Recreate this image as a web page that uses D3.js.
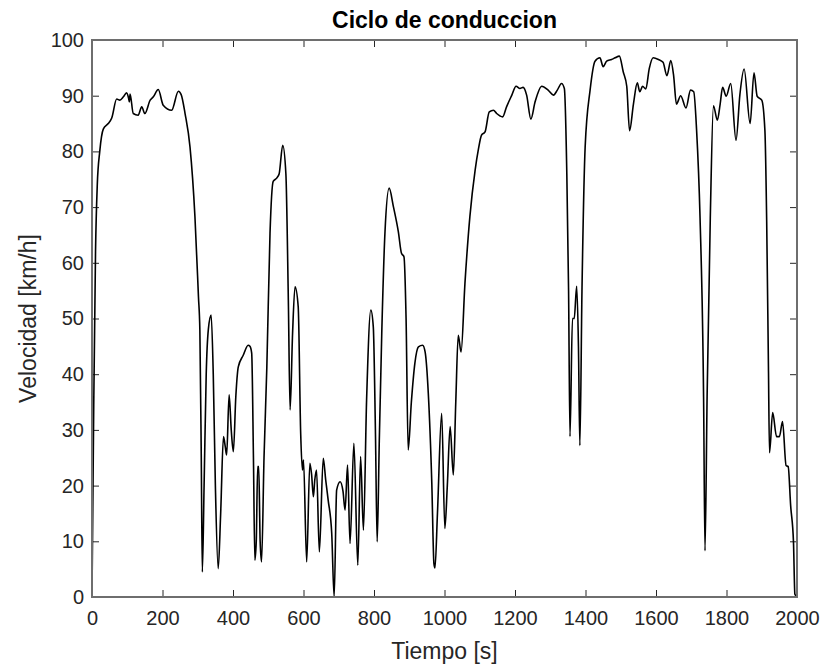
<!DOCTYPE html>
<html>
<head>
<meta charset="utf-8">
<script src="https://cdn.jsdelivr.net/npm/d3@7"></script>
<style>
body { margin: 0; background: white; }
text { font-family: "Liberation Sans", Arial, sans-serif; }
</style>
</head>
<body>
<script>
var g_width = 822
var g_height = 666
var margin = { left: 92, right: 25, top: 40, bottom: 69 }

// data
var tiempo = [0, 5, 10, 15, 22, 32, 46, 56, 70, 79, 89, 98, 104, 106, 108, 117, 131, 141, 150, 165,
    174, 188, 202, 226, 245, 253, 264, 278, 292, 302, 306, 310, 313, 318, 324, 330, 338, 344, 350, 358,
    365, 373, 378, 382, 389, 395, 401, 408, 415, 429, 443, 448, 453, 458, 462, 466, 470, 473, 477, 481,
    488, 496, 505, 514, 524, 531, 541, 550, 557, 562, 569, 576, 585, 592, 597, 600, 609, 618, 623, 628,
    632, 637, 645, 656, 663, 670, 680, 687, 694, 704, 712, 718, 725, 732, 743, 754, 762, 770, 779, 791,
    798, 804, 809, 815, 822, 831, 843, 855, 869, 878, 885, 891, 897, 906, 916, 926, 938, 945, 954, 964,
    970, 973, 980, 992, 1001, 1008, 1016, 1025, 1032, 1039, 1047, 1058, 1072, 1087, 1096, 1105, 1115, 1127, 1139, 1148,
    1165, 1176, 1191, 1203, 1214, 1223, 1233, 1245, 1257, 1276, 1294, 1309, 1320, 1332, 1340, 1347, 1352, 1356, 1363, 1368,
    1375, 1380, 1384, 1390, 1399, 1413, 1427, 1441, 1450, 1460, 1474, 1484, 1496, 1507, 1517, 1525, 1536, 1547, 1554, 1562,
    1571, 1581, 1592, 1607, 1620, 1631, 1642, 1650, 1658, 1670, 1685, 1698, 1707, 1715, 1725, 1735, 1739, 1745, 1754, 1763,
    1774, 1782, 1789, 1799, 1812, 1827, 1838, 1850, 1867, 1878, 1887, 1900, 1909, 1914, 1919, 1922, 1931, 1942, 1950, 1959,
    1969, 1975, 1982, 1990, 1994, 2000]

var velocidad = [0, 35, 62, 74, 80, 84, 85, 86, 89.4, 89.2, 89.8, 90.5, 89.5, 88.9, 90.3, 86.8, 86.5, 88, 86.8, 89.2,
    89.8, 91.1, 88.3, 87.4, 90.8, 90.2, 86.8, 80.8, 68.3, 53.9, 47.9, 25, 4.5, 20, 40, 48, 50.6, 40, 20, 5.1,
    15, 28.8, 27, 25.5, 36.3, 30, 26.1, 36, 41.3, 43.4, 45.2, 45, 43.8, 25, 6.6, 10, 23.4, 23.4, 10, 6.3,
    25, 41.3, 65.3, 74.6, 75.2, 76, 81.1, 76, 53.3, 33.6, 47.3, 55.7, 52.1, 29.4, 22.8, 24.6, 6.3, 24, 22, 18,
    21, 22.8, 8.1, 24.9, 21, 17.4, 11.5, 0, 19.2, 20.7, 19, 15.6, 23.7, 9.6, 27.6, 5.7, 25.2, 12, 35.4, 51.5,
    48.5, 30, 9.9, 28, 47.3, 65.3, 73.4, 70.1, 65.6, 61.7, 61.1, 50, 26.4, 35, 42, 44.9, 45.2, 44, 36.6, 20.4,
    6, 5.2, 15, 33, 12.3, 20, 30.6, 21.9, 35, 47, 44, 56.3, 68.3, 76.7, 80.3, 82.9, 83.5, 87.1, 87.4, 86.8,
    86.2, 88, 90.1, 91.7, 91.3, 91.5, 90.1, 85.8, 88.9, 91.7, 91, 90.1, 91, 92.2, 91.3, 76, 55, 28.8, 50, 50,
    55.8, 45, 27.2, 55, 80.8, 91, 96.2, 96.8, 95.2, 96.2, 96.5, 96.8, 97.1, 94.3, 91.7, 83.7, 88.5, 92.3, 90.7, 91.7,
    91.2, 94.9, 96.8, 96.5, 96, 93.6, 96.3, 93.6, 88.5, 90, 87.8, 91, 90.7, 84, 68, 35.9, 8.3, 36, 68, 88.2,
    85.6, 88.5, 91.5, 89.9, 92.2, 82, 90.2, 94.8, 85, 94.1, 89.9, 89.2, 83.7, 67.4, 41.3, 25.9, 33.1, 28.8, 28.8, 31.5,
    23.6, 23.4, 16.4, 9.9, 0.5, 0]

var xTicks = [0, 200, 400, 600, 800, 1000, 1200, 1400, 1600, 1800, 2000]
var yTicks = [0, 10, 20, 30, 40, 50, 60, 70, 80, 90, 100]

var points = tiempo.map(function (t, i) { return { x: t, y: velocidad[i] } })

var svg = d3.select("body")
    .append("svg")
    .attr("width", g_width)
    .attr("height", g_height)
    .style("background-color", "white")

var xScale = d3.scaleLinear().domain([0, 2000]).range([margin.left, g_width - margin.right])
var yScale = d3.scaleLinear().domain([0, 100]).range([g_height - margin.bottom, margin.top])

var axisColor = "#262626"
var fmt = d3.format("d")

// bottom axis (ticks inward)
var xAxisPlot = svg.append("g")
    .attr("transform", "translate(0," + yScale(0) + ")")
    .call(d3.axisBottom(xScale).tickValues(xTicks).tickFormat(fmt).tickSizeInner(-7).tickSizeOuter(0).tickPadding(14))
// left axis
var yAxisPlot = svg.append("g")
    .attr("transform", "translate(" + xScale(0) + ",0)")
    .call(d3.axisLeft(yScale).tickValues(yTicks).tickFormat(fmt).tickSizeInner(-7).tickSizeOuter(0).tickPadding(8))
// top and right mirrored ticks
var xTopPlot = svg.append("g")
    .attr("transform", "translate(0," + yScale(100) + ")")
    .call(d3.axisTop(xScale).tickValues(xTicks).tickSizeInner(-7).tickSizeOuter(0).tickFormat(""))
var yRightPlot = svg.append("g")
    .attr("transform", "translate(" + xScale(2000) + ",0)")
    .call(d3.axisRight(yScale).tickValues(yTicks).tickSizeInner(-7).tickSizeOuter(0).tickFormat(""))

svg.selectAll(".domain").remove()
svg.selectAll(".tick line").attr("stroke", axisColor).attr("stroke-width", 1)
svg.selectAll(".tick text")
    .attr("fill", axisColor)
    .style("font-size", "20px")
    .style("font-family", "'Liberation Sans', Arial, sans-serif")

// data line
var line = d3.line()
    .x(function (d) { return xScale(d.x) })
    .y(function (d) { return yScale(d.y) })
    .curve(d3.curveMonotoneX)

svg.append("path")
    .datum(points)
    .attr("fill", "none")
    .attr("stroke", "black")
    .attr("stroke-width", 1.6)
    .attr("stroke-linejoin", "round")
    .attr("d", line)

// box
svg.append("rect")
    .attr("x", xScale(0))
    .attr("y", yScale(100))
    .attr("width", xScale(2000) - xScale(0))
    .attr("height", yScale(0) - yScale(100))
    .attr("fill", "none")
    .attr("stroke", "#6e6e6e")
    .attr("stroke-width", 2)

// title and labels
svg.append("text")
    .attr("x", (xScale(0) + xScale(2000)) / 2)
    .attr("y", 28)
    .attr("text-anchor", "middle")
    .attr("fill", "black")
    .style("font-size", "23px")
    .style("font-weight", "bold")
    .text("Ciclo de conduccion")

svg.append("text")
    .attr("x", (xScale(0) + xScale(2000)) / 2)
    .attr("y", 659)
    .attr("text-anchor", "middle")
    .attr("fill", axisColor)
    .style("font-size", "23px")
    .text("Tiempo [s]")

svg.append("text")
    .attr("transform", "translate(36," + ((yScale(0) + yScale(100)) / 2) + ") rotate(-90)")
    .attr("text-anchor", "middle")
    .attr("fill", axisColor)
    .style("font-size", "23px")
    .text("Velocidad [km/h]")
</script>
</body>
</html>
